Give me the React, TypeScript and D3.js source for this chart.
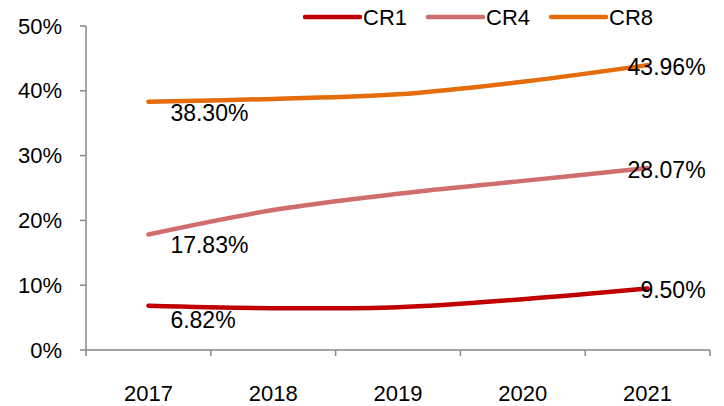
import React from "react";
import * as d3 from "d3";

const years = ["2017", "2018", "2019", "2020", "2021"];
const cr1 = [6.82, 6.45, 6.6, 7.85, 9.5];
const cr4 = [17.83, 21.6, 24.1, 26.1, 28.07];
const cr8 = [38.3, 38.75, 39.45, 41.4, 43.96];
const seriesNames = ["CR1", "CR4", "CR8"];
const seriesColors = ["#C00000", "#D06E6E", "#E46C0A"];
const yTicks = [0, 10, 20, 30, 40, 50];

const W = 724;
const H = 406;
const FONT = "'Liberation Sans', Arial, sans-serif";

export default function App() {
  const x = d3.scaleBand<string>().domain(years).range([86, 710]).padding(0);
  const y = d3.scaleLinear().domain([0, 50]).range([350, 26]);
  const cx = (yr: string) => (x(yr) ?? 0) + x.bandwidth() / 2;
  const line = d3
    .line<number>()
    .x((_, i) => cx(years[i]))
    .y((v) => y(v))
    .curve(d3.curveCatmullRom.alpha(0.5));
  const data = [cr1, cr4, cr8];
  const legendX = [305, 428, 551];
  const boundaries = years.map((yr) => x(yr) ?? 0).concat([710]);

  return (
    <svg
      width={W}
      height={H}
      style={{ position: "absolute", left: 0, top: 0, background: "#fff" }}
      fontFamily={FONT}
    >
      {/* y axis */}
      <line x1={86} x2={86} y1={y(50)} y2={y(0)} stroke="#888" strokeWidth={1.5} />
      {yTicks.map((t) => (
        <g key={t}>
          <line x1={80} x2={86} y1={y(t)} y2={y(t)} stroke="#888" strokeWidth={1.5} />
          <text
            x={62}
            y={y(t)}
            textAnchor="end"
            dominantBaseline="central"
            fontSize={22}
            fill="#000"
          >
            {t}%
          </text>
        </g>
      ))}
      {/* x axis */}
      <line x1={86} x2={710} y1={y(0)} y2={y(0)} stroke="#888" strokeWidth={1.5} />
      {boundaries.map((b, i) => (
        <line key={i} x1={b} x2={b} y1={y(0)} y2={y(0) + 6} stroke="#888" strokeWidth={1.5} />
      ))}
      {years.map((yr) => (
        <text
          key={yr}
          x={cx(yr)}
          y={393}
          textAnchor="middle"
          dominantBaseline="central"
          fontSize={22}
          fill="#000"
        >
          {yr}
        </text>
      ))}
      {/* lines */}
      {data.map((d, si) => (
        <path
          key={si}
          d={line(d) ?? ""}
          fill="none"
          stroke={seriesColors[si]}
          strokeWidth={4.5}
          strokeLinecap="round"
        />
      ))}
      {/* labels */}
      {data.map((d, si) => (
        <g key={"l" + si}>
          <text
            x={cx(years[0]) + 22}
            y={y(d[0]) + (si === 0 ? 14 : 11)}
            dominantBaseline="central"
            fontSize={23}
            fill="#000"
          >
            {d[0].toFixed(2)}%
          </text>
          <text
            x={cx(years[years.length - 1]) + 58}
            y={y(d[d.length - 1]) + 2}
            textAnchor="end"
            dominantBaseline="central"
            fontSize={23}
            fill="#000"
          >
            {d[d.length - 1].toFixed(2)}%
          </text>
        </g>
      ))}
      {/* legend */}
      {seriesNames.map((n, i) => (
        <g key={n}>
          <line
            x1={legendX[i]}
            x2={legendX[i] + 55}
            y1={17}
            y2={17}
            stroke={seriesColors[i]}
            strokeWidth={4.5}
            strokeLinecap="round"
          />
          <text
            x={legendX[i] + 58}
            y={17}
            dominantBaseline="central"
            fontSize={22}
            fill="#000"
          >
            {n}
          </text>
        </g>
      ))}
    </svg>
  );
}
